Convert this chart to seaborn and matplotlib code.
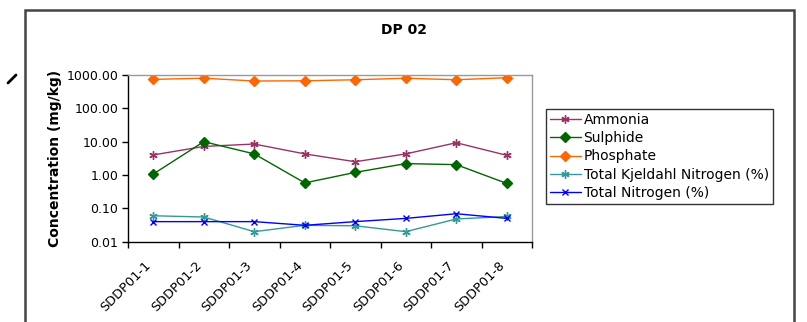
import matplotlib
matplotlib.use("Agg")
import matplotlib.pyplot as plt
import seaborn as sns
from matplotlib.ticker import FixedLocator, FuncFormatter, NullFormatter
from matplotlib.patches import Rectangle
from matplotlib.lines import Line2D
from matplotlib.transforms import ScaledTranslation

categories = ["SDDP01-1", "SDDP01-2", "SDDP01-3", "SDDP01-4",
              "SDDP01-5", "SDDP01-6", "SDDP01-7", "SDDP01-8"]
ammonia = [4.0, 7.2, 8.5, 4.3, 2.5, 4.3, 9.3, 3.9]
sulphide = [1.07, 10.0, 4.3, 0.58, 1.2, 2.2, 2.05, 0.56]
phosphate = [740, 800, 660, 670, 720, 800, 720, 830]
tkn = [0.06, 0.055, 0.02, 0.031, 0.03, 0.02, 0.048, 0.057]
tn = [0.04, 0.04, 0.04, 0.031, 0.04, 0.05, 0.069, 0.05]
series_names = ["Ammonia", "Sulphide", "Phosphate",
                "Total Kjeldahl Nitrogen (%)", "Total Nitrogen (%)"]
title = "DP 02"
ylabel = "Concentration (mg/kg)"
yticks = [0.01, 0.1, 1, 10, 100, 1000]

sns.set_theme(style="white")
plt.rcParams['font.family'] = ['DejaVu Sans']
plt.rcParams.update({"text.color": "black", "axes.labelcolor": "black",
                     "xtick.color": "black", "ytick.color": "black"})

fig = plt.figure(figsize=(8.07, 3.22), dpi=100)
W, H = 807, 322
ax = fig.add_axes([128 / W, 1 - 241.7 / H, (532 - 128) / W, (241.7 - 75) / H])

styles = [
    (ammonia, "#993366", (6, 2, 0), 6, 1.0),
    (sulphide, "#006600", "D", 5, 1.0),
    (phosphate, "#FF6600", "D", 5, 1.0),
    (tkn, "#339999", (6, 2, 0), 6, 1.0),
    (tn, "#0000FF", "x", 4, 1.0),
]
for (vals, col, mk, ms, lw), name in zip(styles, series_names):
    sns.lineplot(x=categories, y=vals, ax=ax, color=col, marker=mk,
                 markersize=ms, markeredgecolor=col, markerfacecolor=col,
                 markeredgewidth=1.0, linewidth=lw, label=name, sort=False)

ax.set_yscale("log")
ax.set_ylim(0.01, 1000)
ax.set_xlim(-0.5, 7.5)
ax.yaxis.set_major_locator(FixedLocator(yticks))
ax.yaxis.set_major_formatter(FuncFormatter(lambda v, p: f"{v:.2f}"))
ax.yaxis.set_minor_locator(FixedLocator([]))
ax.yaxis.set_minor_formatter(NullFormatter())

ax.xaxis.set_minor_locator(FixedLocator([i - 0.5 for i in range(len(categories) + 1)]))
ax.tick_params(axis="x", which="major", length=0, pad=8, labelcolor="black")
ax.tick_params(axis="x", which="minor", length=4, width=1, color="black",
               direction="out", bottom=True)
ax.tick_params(axis="y", which="major", length=4, width=1, color="black",
               direction="out", left=True, labelsize=9, pad=3, labelcolor="black")
ax.set_xticks(range(len(categories)))
ax.set_xticklabels(categories, rotation=45, ha="right", rotation_mode="anchor",
                   fontsize=9.3)
offset = ScaledTranslation(-9 / 100, -6 / 100, fig.dpi_scale_trans)
for lbl in ax.get_xticklabels():
    lbl.set_transform(lbl.get_transform() + offset)

for s in ["left", "bottom"]:
    ax.spines[s].set_color("black")
    ax.spines[s].set_linewidth(1.0)
for s in ["top", "right"]:
    ax.spines[s].set_color("#999999")
    ax.spines[s].set_linewidth(1.0)

ax.set_ylabel(ylabel, fontsize=10, fontweight="bold", labelpad=3, color="black")
ax.set_xlabel("")
ax.grid(False)

leg = ax.legend(loc="upper left", bbox_to_anchor=(546 / W, 1 - 109 / H),
                bbox_transform=fig.transFigure, frameon=True, fancybox=False,
                edgecolor="black", fontsize=10, handlelength=2.2,
                handletextpad=0.2, borderpad=0.3, labelspacing=0.3,
                borderaxespad=0, labelcolor="black")
leg.get_frame().set_linewidth(1.0)

fig.text(404 / W, 1 - 30 / H, title, ha="center", va="center",
         fontsize=10, fontweight="bold", color="black")

fig.patches.append(Rectangle((25 / W, -0.1), (794 - 25) / W, 1.1 - 10 / H,
                             transform=fig.transFigure, fill=False,
                             edgecolor="#444444", linewidth=1.8))
fig.lines.append(Line2D([8 / W, 16 / W], [1 - 83 / H, 1 - 75 / H],
                        transform=fig.transFigure, color="black", linewidth=2))

fig.savefig("out.png", dpi=100)
